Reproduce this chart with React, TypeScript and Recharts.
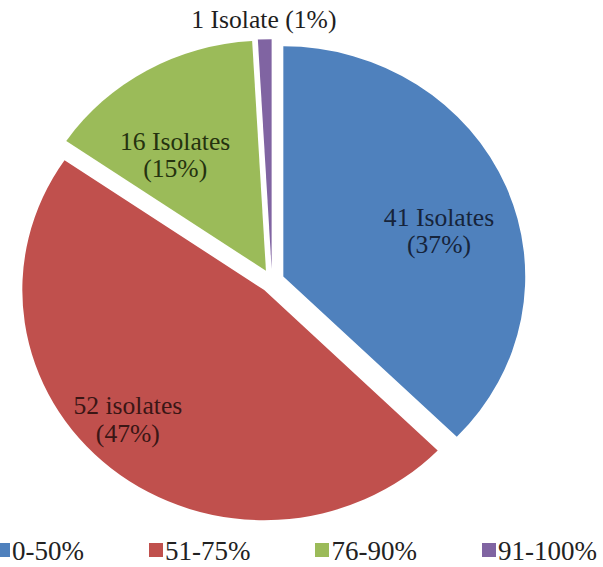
import { Cell, Legend, Pie, PieChart } from "recharts";

const categories = ["0-50%", "51-75%", "76-90%", "91-100%"];
const isolateCounts = [41, 52, 16, 1];
const countLabels = ["41 Isolates", "52 isolates", "16 Isolates", "1 Isolate"];
const percentLabels = ["(37%)", "(47%)", "(15%)", "(1%)"];
const colors = ["#4F81BD", "#C0504D", "#9BBB59", "#8064A2"];
const labelColors = ["#16243b", "#3a1615", "#25320f", "#1e1e1e"];

// where each label sits, relative to its own slice (fraction of radius, angle in degrees)
const labelLayout: Record<string, { r: number; a: number; inline?: boolean }> = {
  "0-50%": { r: 0.673, a: 17 },
  "51-75%": { r: 0.797, a: 225 },
  "76-90%": { r: 0.628, a: 126.7 },
  "91-100%": { r: 1.084, a: 91.7, inline: true },
};

const WIDTH = 603;
const HEIGHT = 567;
const CX = 272;
const CY = 281;
const RADIUS = 236;
const EXPLODE = 12;
// the original pie is a touch wider than tall
const SCALE_X = 1.025;
const SCALE_Y = 0.975;
const FONT = "'Liberation Serif', 'Times New Roman', serif";

const data = categories.map((name, i) => ({ name, value: isolateCounts[i] }));
const total = isolateCounts.reduce((s, v) => s + v, 0);

// mid angle of each slice, counted clockwise from 12 o'clock
const midAngles = isolateCounts.map((v, i) => {
  const before = isolateCounts.slice(0, i).reduce((s, x) => s + x, 0);
  return 90 - (360 * (before + v / 2)) / total;
});

function SliceLabel(props: any, i: number) {
  if (props.index !== i) return null;
  const lay = labelLayout[categories[i]];
  const rad = (lay.a * Math.PI) / 180;
  const x = props.cx + lay.r * RADIUS * Math.cos(rad);
  const y = props.cy - lay.r * RADIUS * Math.sin(rad);
  const common = {
    textAnchor: "middle" as const,
    dominantBaseline: "central" as const,
    fontFamily: FONT,
    fontSize: 25,
    fill: labelColors[i],
  };
  if (lay.inline) {
    return (
      <text x={x} y={y} {...common}>
        {`${countLabels[i]} ${percentLabels[i]}`}
      </text>
    );
  }
  return (
    <g>
      <text x={x} y={y - 14} {...common}>
        {countLabels[i]}
      </text>
      <text x={x} y={y + 14} {...common}>
        {percentLabels[i]}
      </text>
    </g>
  );
}

function LegendRow() {
  return (
    <div
      style={{
        display: "flex",
        whiteSpace: "nowrap",
        fontFamily: FONT,
        fontSize: 27,
        lineHeight: "27px",
        color: "#222",
      }}
    >
      {categories.map((c, i) => (
        <span key={c} style={{ marginRight: 65 }}>
          <span
            style={{
              display: "inline-block",
              width: 14,
              height: 14,
              background: colors[i],
              marginRight: 2,
              marginBottom: 3,
            }}
          />
          {c}
        </span>
      ))}
    </div>
  );
}

export default function App() {
  return (
    <div
      className="pie-wrap"
      style={{
        position: "absolute",
        left: 0,
        top: 0,
        width: WIDTH,
        height: HEIGHT,
        overflow: "hidden",
        background: "#fff",
      }}
    >
      <style>{`.pie-wrap .recharts-surface { transform: scale(${SCALE_X}, ${SCALE_Y}); transform-origin: ${CX}px ${CY}px; }`}</style>
      <PieChart width={WIDTH} height={HEIGHT} margin={{ top: 0, right: 0, bottom: 0, left: 0 }}>
        {categories.map((c, i) => {
          const rad = (midAngles[i] * Math.PI) / 180;
          return (
            <Pie
              key={c}
              data={data}
              dataKey="value"
              nameKey="name"
              cx={CX + EXPLODE * Math.cos(rad)}
              cy={CY - EXPLODE * Math.sin(rad)}
              outerRadius={RADIUS}
              startAngle={90}
              endAngle={-270}
              stroke="none"
              labelLine={false}
              label={(p: any) => SliceLabel(p, i)}
              isAnimationActive={false}
            >
              {data.map((d, j) => (
                <Cell key={d.name} fill={j === i ? colors[j] : "none"} />
              ))}
            </Pie>
          );
        })}
        <Legend
          verticalAlign="bottom"
          content={() => <LegendRow />}
          wrapperStyle={{ left: -4, top: 538, bottom: "auto", width: 720 }}
        />
      </PieChart>
    </div>
  );
}
